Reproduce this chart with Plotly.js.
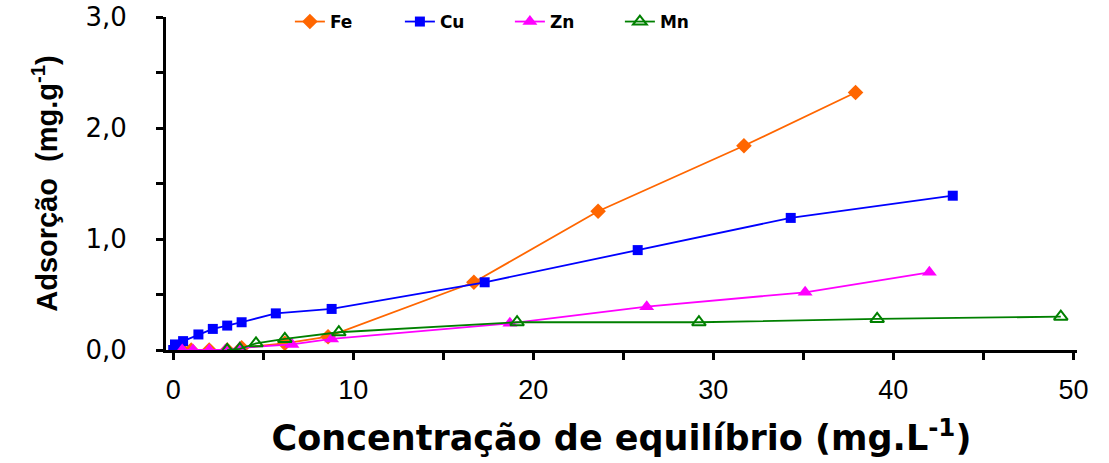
<!DOCTYPE html>
<html>
<head>
<meta charset="utf-8">
<script src="https://cdn.plot.ly/plotly-3.0.1.min.js"></script>
<style>html,body{margin:0;padding:0;background:#fff;}#chart{width:1109px;height:463px;}</style>
</head>
<body>
<div id="chart"></div>
<script>
// Data
const feX = [0.5, 1.0, 2.0, 3.0, 3.8, 6.2, 8.6, 16.7, 23.6, 31.7, 37.9];
const feY = [0.00, 0.00, 0.00, 0.00, 0.02, 0.06, 0.12, 0.61, 1.25, 1.84, 2.32];
const cuX = [0.0, 0.1, 0.55, 1.4, 2.2, 3.0, 3.8, 5.7, 8.8, 17.3, 25.8, 34.3, 43.3];
const cuY = [0.00, 0.05, 0.08, 0.14, 0.19, 0.22, 0.25, 0.33, 0.37, 0.61, 0.90, 1.19, 1.39];
const znX = [0.5, 1.1, 2.0, 2.9, 3.7, 6.6, 8.8, 18.7, 26.3, 35.1, 42.0];
const znY = [0.00, 0.00, 0.00, 0.00, 0.02, 0.05, 0.10, 0.24, 0.39, 0.52, 0.70];
const mnX = [3.0, 3.7, 4.6, 6.2, 9.2, 19.1, 29.2, 39.1, 49.3];
const mnY = [0.00, 0.01, 0.06, 0.10, 0.16, 0.25, 0.25, 0.28, 0.30];
const seriesNames = ["Fe", "Cu", "Zn", "Mn"];
const xTickVals = [0, 10, 20, 30, 40, 50];
const yTickVals = [0, 1, 2, 3];

const traces = [
  {x: feX, y: feY, name: seriesNames[0], mode: 'lines+markers',
   line: {color: '#FF6600', width: 1.8},
   marker: {symbol: 'diamond', size: 12, color: '#FF6600'}},
  {x: cuX, y: cuY, name: seriesNames[1], mode: 'lines+markers',
   line: {color: '#0000FF', width: 1.8},
   marker: {symbol: 'square', size: 10, color: '#0000FF'}},
  {x: znX, y: znY, name: seriesNames[2], mode: 'lines+markers',
   line: {color: '#FF00FF', width: 1.8},
   marker: {symbol: 'triangle-up', size: 13, color: '#FF00FF'}},
  {x: mnX, y: mnY, name: seriesNames[3], mode: 'lines+markers',
   line: {color: '#008000', width: 1.8},
   marker: {symbol: 'triangle-up-open', size: 12, color: '#008000', line: {width: 2, color: '#008000'}}}
];

const layout = {
  width: 1109, height: 463,
  margin: {l: 166, r: 32, t: 17, b: 113, autoexpand: false},
  paper_bgcolor: '#fff', plot_bgcolor: '#fff',
  separators: ',.',
  font: {family: 'Liberation Sans, Arial, sans-serif', color: '#000'},
  showlegend: true,
  legend: {orientation: 'h', x: 0.136, y: 0.985, xanchor: 'left', yanchor: 'middle',
    font: {size: 17, family: 'DejaVu Sans, sans-serif', weight: 'bold'},
    bgcolor: 'rgba(0,0,0,0)', entrywidth: 65, entrywidthmode: 'pixels', tracegroupgap: 0},
  xaxis: {
    range: [-0.4, 50.2], showgrid: false, zeroline: false,
    showline: true, linecolor: '#000', linewidth: 3,
    ticks: 'outside', ticklen: 7, tickwidth: 3, tickcolor: '#000',
    tickvals: xTickVals, ticktext: xTickVals.map(String),
    tickfont: {size: 27}, ticklabelstandoff: 7,
    minor: {dtick: 5, tick0: 0, ticks: 'outside', ticklen: 7, tickwidth: 3, tickcolor: '#000', showgrid: false},
    title: {text: 'Concentração de equilíbrio (mg.L<sup>-1</sup>)', standoff: 22,
      font: {size: 35, family: 'DejaVu Sans, sans-serif', weight: 'bold'}}
  },
  yaxis: {
    range: [0, 3], showgrid: false, zeroline: false,
    showline: true, linecolor: '#000', linewidth: 3,
    ticks: 'outside', ticklen: 7, tickwidth: 3, tickcolor: '#000',
    tickvals: yTickVals, tickformat: '.1f',
    tickfont: {size: 26, family: 'DejaVu Sans, sans-serif'}, ticklabelstandoff: 24,
    minor: {dtick: 0.5, tick0: 0, ticks: 'outside', ticklen: 7, tickwidth: 3, tickcolor: '#000', showgrid: false},
    title: {text: 'Adsorção  (mg.g<sup>-1</sup>)', standoff: 20,
      font: {size: 29, weight: 'bold'}}
  }
};

Plotly.newPlot('chart', traces, layout, {displayModeBar: false, staticPlot: true});
</script>
</body>
</html>
